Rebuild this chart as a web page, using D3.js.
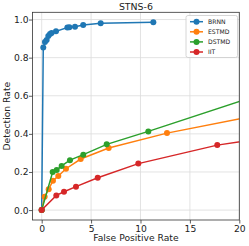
<!DOCTYPE html>
<html>
<head>
<meta charset="utf-8">
<script src="https://cdn.jsdelivr.net/npm/d3@7"></script>
<style>
  body { margin: 0; background: #fff; }
  text { font-family: "DejaVu Sans", sans-serif; }
</style>
</head>
<body>
<div id="chart"></div>
<script>
// series values
const seriesNames = ["BRNN", "ESTMD", "DSTMD", "IIT"];
const colors = ["#1f77b4", "#ff7f0e", "#2ca02c", "#d62728"];

const brnn = [[0, 0], [0.16, 0.853], [0.33, 0.882], [0.5, 0.893], [0.67, 0.914], [0.84, 0.924],
  [1.0, 0.929], [1.45, 0.938], [2.6, 0.958], [2.8, 0.96], [3.37, 0.962], [4.2, 0.971],
  [5.97, 0.981], [11.3, 0.986]];
const estmd = [[0, 0], [0.3, 0.07], [0.71, 0.11], [1.14, 0.154], [1.68, 0.179], [2.46, 0.217],
  [3.95, 0.268], [6.78, 0.326], [12.68, 0.404], [25, 0.53]];
const dstmd = [[0, 0], [1.11, 0.2], [1.52, 0.21], [2.02, 0.232], [2.86, 0.262], [4.21, 0.291],
  [6.58, 0.345], [10.79, 0.413], [25, 0.655]];
const iit = [[0, 0], [1.48, 0.077], [2.26, 0.096], [3.47, 0.123], [5.67, 0.17], [9.78, 0.244],
  [17.77, 0.341], [25, 0.396]];
const allSeries = [brnn, estmd, dstmd, iit];

const xTicks = [0, 5, 10, 15, 20];
const yTicks = [0.0, 0.2, 0.4, 0.6, 0.8, 1.0];

const width = 249, height = 246;
const margin = { top: 12.3, right: 9.7, bottom: 26, left: 32.5 };
const fs = 9.2;

const svg = d3.select("#chart").append("svg")
    .attr("width", width)
    .attr("height", height);

const xScale = d3.scaleLinear().domain([-0.93, 20]).range([margin.left, width - margin.right]);
const yScale = d3.scaleLinear().domain([-0.052, 1.038]).range([height - margin.bottom, margin.top]);

// grid
const grid = svg.append("g");
grid.selectAll(".gx").data(xTicks).join("line")
    .attr("x1", d => xScale(d)).attr("x2", d => xScale(d))
    .attr("y1", margin.top).attr("y2", height - margin.bottom)
    .attr("stroke", "#dcdcdc").attr("stroke-width", 0.8);
grid.selectAll(".gy").data(yTicks).join("line")
    .attr("y1", d => yScale(d)).attr("y2", d => yScale(d))
    .attr("x1", margin.left).attr("x2", width - margin.right)
    .attr("stroke", "#dcdcdc").attr("stroke-width", 0.8);

svg.append("clipPath").attr("id", "clip")
  .append("rect")
    .attr("x", margin.left).attr("y", margin.top)
    .attr("width", width - margin.right - margin.left)
    .attr("height", height - margin.bottom - margin.top);

const line = d3.line().x(d => xScale(d[0])).y(d => yScale(d[1]));

const plot = svg.append("g").attr("clip-path", "url(#clip)");
allSeries.forEach((s, i) => {
    plot.append("path")
        .datum(s)
        .attr("d", line)
        .attr("fill", "none")
        .attr("stroke", colors[i])
        .attr("stroke-width", 1.5);
    plot.selectAll(".m" + i).data(s).join("circle")
        .attr("cx", d => xScale(d[0]))
        .attr("cy", d => yScale(d[1]))
        .attr("r", 3)
        .attr("fill", colors[i]);
});

// axes
const xAxis = svg.append("g")
    .attr("transform", `translate(0,${height - margin.bottom})`)
    .call(d3.axisBottom(xScale).tickValues(xTicks).tickSize(3.5).tickPadding(1.5).tickFormat(d3.format("d")));
const yAxis = svg.append("g")
    .attr("transform", `translate(${margin.left},0)`)
    .call(d3.axisLeft(yScale).tickValues(yTicks).tickSize(3.5).tickPadding(0.5).tickFormat(d3.format(".1f")));
[xAxis, yAxis].forEach(a => {
    a.select(".domain").remove();
    a.selectAll("text").attr("font-size", fs).attr("fill", "#222").attr("font-family", "DejaVu Sans, sans-serif");
    a.selectAll("line").attr("stroke", "#333").attr("stroke-width", 0.8);
});

// frame
svg.append("rect")
    .attr("x", margin.left).attr("y", margin.top)
    .attr("width", width - margin.right - margin.left)
    .attr("height", height - margin.bottom - margin.top)
    .attr("fill", "none").attr("stroke", "#333").attr("stroke-width", 0.8);

// titles
svg.append("text")
    .attr("x", (margin.left + width - margin.right) / 2).attr("y", 10)
    .attr("text-anchor", "middle").attr("font-size", 9.4).attr("fill", "#222")
    .text("STNS-6");
svg.append("text")
    .attr("x", (margin.left + width - margin.right) / 2).attr("y", 241)
    .attr("text-anchor", "middle").attr("font-size", fs).attr("fill", "#222")
    .text("False Positive Rate");
svg.append("text")
    .attr("transform", `translate(10,${(margin.top + height - margin.bottom) / 2}) rotate(-90)`)
    .attr("text-anchor", "middle").attr("font-size", fs).attr("fill", "#222")
    .text("Detection Rate");

// legend
const legend = svg.append("g").attr("transform", "translate(186,15.5)");
legend.append("rect")
    .attr("width", 51.5).attr("height", 42).attr("rx", 2)
    .attr("fill", "#fff").attr("fill-opacity", 0.85)
    .attr("stroke", "#ccc").attr("stroke-width", 0.8);
const items = legend.selectAll(".item").data(seriesNames).join("g")
    .attr("transform", (d, i) => `translate(0,${6.2 + i * 10.1})`);
items.append("line")
    .attr("x1", 4).attr("x2", 17)
    .attr("stroke", (d, i) => colors[i]).attr("stroke-width", 1.5);
items.append("circle")
    .attr("cx", 10.5).attr("r", 3)
    .attr("fill", (d, i) => colors[i]);
items.append("text")
    .attr("x", 22).attr("y", 2.2)
    .attr("font-size", 6.1).attr("fill", "#222")
    .text(d => d);
</script>
</body>
</html>
